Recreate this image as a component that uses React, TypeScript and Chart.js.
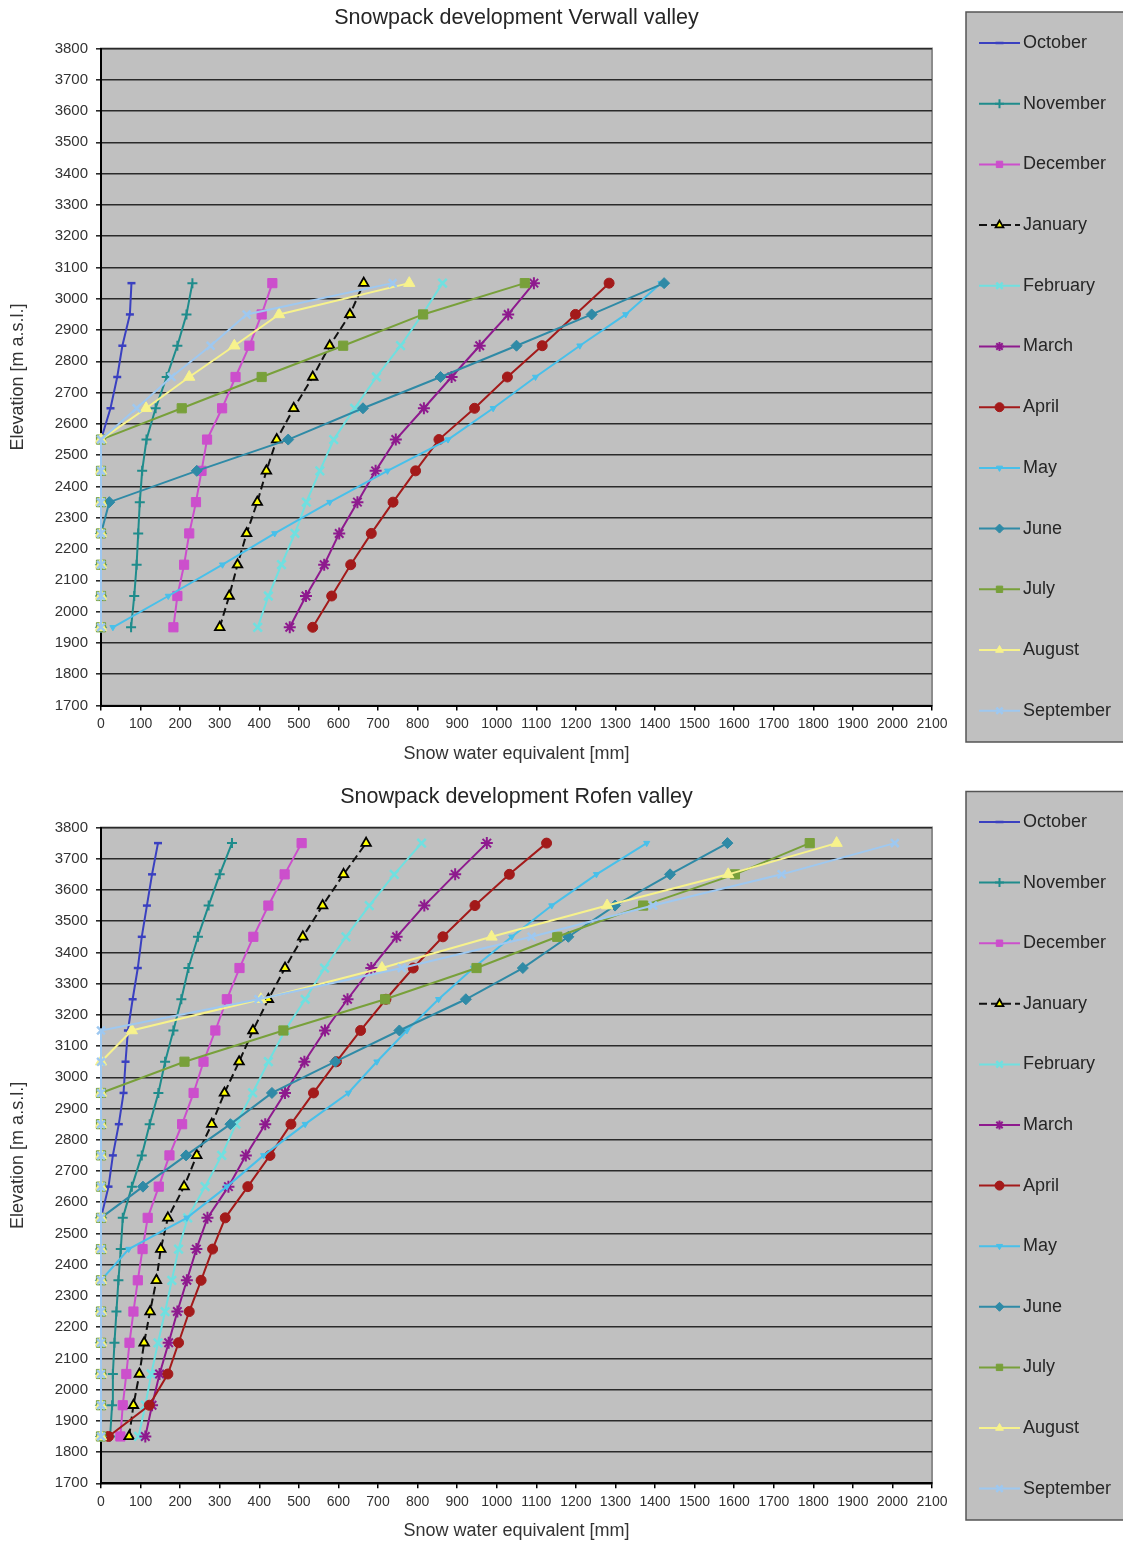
import React, { useEffect, useRef } from 'react';
import { Chart, registerables } from 'chart.js';
import { drawPoint } from 'chart.js/helpers';

Chart.register(...registerables);

const FONT = '"Liberation Sans", Arial, sans-serif';

const MONTHS = ['October', 'November', 'December', 'January', 'February', 'March', 'April', 'May', 'June', 'July', 'August', 'September'];

// ---------- Verwall valley (elevation bands 1950..3050 m) ----------
const VERWALL_ELEVATION = [1950, 2050, 2150, 2250, 2350, 2450, 2550, 2650, 2750, 2850, 2950, 3050];
const VERWALL_OCT = [0, 0, 0, 0, 0, 0, 0, 24, 41, 54, 73, 77];
const VERWALL_NOV = [76, 84, 90, 94, 98, 104, 115, 138, 166, 193, 216, 231];
const VERWALL_DEC = [183, 193, 210, 223, 240, 254, 268, 306, 340, 375, 406, 433];
const VERWALL_JAN = [300, 324, 345, 368, 395, 418, 444, 487, 535, 578, 629, 664];
const VERWALL_FEB = [396, 423, 456, 490, 519, 553, 588, 641, 696, 757, 812, 863];
const VERWALL_MAR = [477, 518, 564, 602, 648, 694, 745, 816, 886, 957, 1029, 1094];
const VERWALL_APR = [535, 583, 631, 683, 738, 795, 854, 944, 1027, 1115, 1199, 1284];
const VERWALL_MAY = [30, 170, 307, 439, 578, 724, 877, 991, 1098, 1210, 1326, 1415];
const VERWALL_JUN = [0, 0, 0, 0, 21, 242, 473, 662, 858, 1050, 1240, 1423];
const VERWALL_JUL = [0, 0, 0, 0, 0, 0, 0, 204, 406, 612, 814, 1071];
const VERWALL_AUG = [0, 0, 0, 0, 0, 0, 0, 114, 223, 337, 450, 779];
const VERWALL_SEP = [0, 0, 0, 0, 0, 0, 0, 90, 178, 277, 368, 737];

// ---------- Rofen valley (elevation bands 1850..3750 m) ----------
const ROFEN_ELEVATION = [1850, 1950, 2050, 2150, 2250, 2350, 2450, 2550, 2650, 2750, 2850, 2950, 3050, 3150, 3250, 3350, 3450, 3550, 3650, 3750];
const ROFEN_OCT = [0, 0, 0, 0, 0, 0, 0, 0, 19, 30, 45, 57, 62, 68, 80, 93, 103, 116, 129, 144];
const ROFEN_NOV = [23, 28, 30, 34, 39, 44, 50, 55, 78, 103, 123, 145, 162, 183, 203, 221, 245, 272, 300, 331];
const ROFEN_DEC = [49, 55, 64, 72, 82, 93, 105, 118, 146, 173, 205, 234, 259, 289, 318, 350, 385, 423, 464, 507];
const ROFEN_JAN = [71, 82, 97, 109, 124, 140, 151, 169, 210, 242, 280, 312, 349, 384, 423, 465, 510, 560, 613, 670];
const ROFEN_FEB = [95, 112, 127, 144, 162, 179, 196, 219, 263, 305, 341, 383, 423, 465, 516, 565, 619, 678, 741, 810];
const ROFEN_MAR = [112, 129, 148, 171, 193, 217, 241, 269, 322, 366, 415, 465, 514, 566, 623, 683, 747, 817, 895, 975];
const ROFEN_APR = [19, 122, 169, 196, 223, 253, 282, 314, 371, 427, 480, 537, 595, 656, 720, 789, 864, 945, 1032, 1126];
const ROFEN_MAY = [0, 0, 0, 0, 0, 0, 70, 217, 318, 411, 516, 625, 697, 773, 853, 941, 1038, 1139, 1252, 1379];
const ROFEN_JUN = [0, 0, 0, 0, 0, 0, 0, 0, 106, 215, 327, 432, 592, 754, 922, 1066, 1181, 1299, 1438, 1583];
const ROFEN_JUL = [0, 0, 0, 0, 0, 0, 0, 0, 0, 0, 0, 0, 211, 461, 718, 949, 1153, 1370, 1602, 1791];
const ROFEN_AUG = [0, 0, 0, 0, 0, 0, 0, 0, 0, 0, 0, 0, 0, 78, 404, 710, 987, 1279, 1585, 1859];
const ROFEN_SEP = [0, 0, 0, 0, 0, 0, 0, 0, 0, 0, 0, 0, 0, 0, 398, 760, 1088, 1395, 1720, 2006];

const VERWALL_SERIES = [VERWALL_OCT, VERWALL_NOV, VERWALL_DEC, VERWALL_JAN, VERWALL_FEB, VERWALL_MAR, VERWALL_APR, VERWALL_MAY, VERWALL_JUN, VERWALL_JUL, VERWALL_AUG, VERWALL_SEP];
const ROFEN_SERIES = [ROFEN_OCT, ROFEN_NOV, ROFEN_DEC, ROFEN_JAN, ROFEN_FEB, ROFEN_MAR, ROFEN_APR, ROFEN_MAY, ROFEN_JUN, ROFEN_JUL, ROFEN_AUG, ROFEN_SEP];

const X_MIN = 0;
const X_MAX = 2100;
const X_STEP = 100;
const Y_MIN = 1700;
const Y_MAX = 3800;
const Y_STEP = 100;

// ---------- styles (one per month) ----------
type Style = { color: string; fill: string; pointStyle: any; radius: number; pbw: number; dash?: number[]; rotation?: number; pointBorder?: string };
const STYLES: Style[] = [
  { color: '#3a40c0', fill: '#3a40c0', pointStyle: 'line', radius: 4, pbw: 2.5 },
  { color: '#1f8c8c', fill: '#1f8c8c', pointStyle: 'cross', radius: 5, pbw: 2 },
  { color: '#cc4fcc', fill: '#cc4fcc', pointStyle: 'rect', radius: 6.5, pbw: 1 },
  { color: '#111111', fill: '#ffff00', pointStyle: 'triangle', radius: 5.5, pbw: 1.8, dash: [8, 4], pointBorder: '#000000' },
  { color: '#6fe0e0', fill: '#6fe0e0', pointStyle: 'crossRot', radius: 6, pbw: 2.5 },
  { color: '#8e1a8e', fill: '#8e1a8e', pointStyle: 'star', radius: 6, pbw: 2 },
  { color: '#a31a1a', fill: '#a31a1a', pointStyle: 'circle', radius: 5, pbw: 1 },
  { color: '#48c0ea', fill: '#48c0ea', pointStyle: 'triangle', radius: 3.5, pbw: 1, rotation: 180 },
  { color: '#2f8aa6', fill: '#2f8aa6', pointStyle: 'rectRot', radius: 5.5, pbw: 1 },
  { color: '#78a03a', fill: '#78a03a', pointStyle: 'rect', radius: 6.5, pbw: 1 },
  { color: '#f7f28c', fill: '#f7f28c', pointStyle: 'triangle', radius: 6.5, pbw: 1 },
  { color: '#9ec8f0', fill: '#9ec8f0', pointStyle: 'crossRot', radius: 5.5, pbw: 2.5 },
];

const panelPlugin = {
  id: 'panel',
  beforeDraw(chart: any, _args: any, opts: any) {
    const { ctx, chartArea: a } = chart;
    ctx.save();
    ctx.fillStyle = '#c0c0c0';
    ctx.fillRect(a.left, a.top, a.right - a.left, a.bottom - a.top);
    ctx.strokeStyle = '#8c8c8c';
    ctx.lineWidth = 2;
    ctx.strokeRect(a.left, a.top, a.right - a.left, a.bottom - a.top);
    // title
    ctx.fillStyle = '#262626';
    ctx.font = `21.5px ${FONT}`;
    ctx.textAlign = 'center';
    ctx.textBaseline = 'middle';
    ctx.fillText(opts.title, (a.left + a.right) / 2, opts.titleY);
    // legend box
    ctx.fillStyle = '#c0c0c0';
    ctx.fillRect(opts.legendLeft, opts.legendTop, 200, opts.legendBottom - opts.legendTop);
    ctx.strokeStyle = '#555555';
    ctx.lineWidth = 1.5;
    ctx.strokeRect(opts.legendLeft, opts.legendTop, 200, opts.legendBottom - opts.legendTop);
    ctx.restore();
  },
  afterDraw(chart: any, _args: any, opts: any) {
    const { ctx } = chart;
    ctx.save();
    chart.data.datasets.forEach((ds: any, i: number) => {
      const y = opts.legendFirst + i * opts.legendStep;
      const x0 = opts.legendLeft + 13;
      const x1 = opts.legendLeft + 54;
      ctx.strokeStyle = ds.borderColor;
      ctx.lineWidth = 2;
      ctx.setLineDash(ds.borderDash || []);
      ctx.beginPath();
      ctx.moveTo(x0, y);
      ctx.lineTo(x1, y);
      ctx.stroke();
      ctx.setLineDash([]);
      ctx.fillStyle = ds.pointBackgroundColor;
      ctx.strokeStyle = ds.pointBorderColor;
      ctx.lineWidth = ds.pointBorderWidth;
      drawPoint(ctx, { pointStyle: ds.pointStyle, rotation: ds.pointRotation || 0, radius: Math.min(ds.pointRadius, 4.5), borderWidth: ds.pointBorderWidth }, (x0 + x1) / 2, y);
      ctx.fillStyle = '#262626';
      ctx.font = `18px ${FONT}`;
      ctx.textAlign = 'left';
      ctx.textBaseline = 'middle';
      ctx.fillText(ds.label, x1 + 3, y);
    });
    ctx.restore();
  },
};

type PanelProps = {
  top: number; height: number; plotTop: number; plotBottom: number; title: string; titleY: number; xTitleY: number;
  legendTop: number; legendBottom: number; legendFirst: number; legendStep: number;
  elevation: number[]; series: number[][];
};

const plain = (v: any) => String(v);

function Panel(p: PanelProps) {
  const ref = useRef<HTMLCanvasElement>(null);
  useEffect(() => {
    const datasets = MONTHS.map((m, i) => {
      const s = STYLES[i];
      return {
        label: m,
        data: p.series[i].map((v, j) => ({ x: v, y: p.elevation[j] })),
        showLine: true,
        borderColor: s.color,
        backgroundColor: s.fill,
        borderWidth: 2,
        borderDash: s.dash || [],
        pointStyle: s.pointStyle,
        pointRadius: s.radius,
        pointRotation: s.rotation || 0,
        pointBackgroundColor: s.fill,
        pointBorderColor: s.pointBorder || s.color,
        pointBorderWidth: s.pbw,
        tension: 0,
        clip: false as any,
        order: -i,
      };
    });
    const leftW = 101;
    const right = 932;
    const xTitleFont = 18;
    const chart = new Chart(ref.current as HTMLCanvasElement, {
      type: 'scatter',
      data: { datasets },
      plugins: [panelPlugin],
      options: {
        animation: false,
        responsive: false,
        events: [],
        layout: { padding: { top: p.plotTop, right: 1123 - right, left: 0, bottom: 0 } },
        plugins: {
          legend: { display: false },
          tooltip: { enabled: false },
          panel: {
            title: p.title, titleY: p.titleY,
            legendLeft: 966, legendTop: p.legendTop, legendBottom: p.legendBottom,
            legendFirst: p.legendFirst, legendStep: p.legendStep,
          },
        } as any,
        scales: {
          x: {
            type: 'linear', min: X_MIN, max: X_MAX,
            ticks: { stepSize: X_STEP, autoSkip: false, maxRotation: 0, color: '#333333', font: { family: FONT, size: 14 }, padding: 5, callback: plain },
            grid: { drawOnChartArea: false, drawTicks: true, tickLength: 5, color: '#000000', lineWidth: 1.5 },
            border: { display: true, color: '#000000', width: 2 },
            title: { display: true, text: 'Snow water equivalent [mm]', color: '#333333', font: { family: FONT, size: xTitleFont }, padding: { top: 0, bottom: p.height - p.xTitleY - xTitleFont * 0.6 } },
            afterFit: (sc: any) => { sc.height = p.height - p.plotBottom; },
          },
          y: {
            type: 'linear', min: Y_MIN, max: Y_MAX,
            ticks: { stepSize: Y_STEP, autoSkip: false, color: '#333333', font: { family: FONT, size: 15 }, padding: 8, callback: plain },
            grid: { drawOnChartArea: true, drawTicks: true, tickLength: 5, color: '#2a2a2a', lineWidth: 1.6 },
            border: { display: true, color: '#000000', width: 2 },
            title: { display: true, text: 'Elevation [m a.s.l.]', color: '#333333', font: { family: FONT, size: 18 }, padding: { top: 7, bottom: 0 } },
            afterFit: (sc: any) => { sc.width = leftW; },
          },
        },
      } as any,
    });
    return () => chart.destroy();
  }, []);
  return (
    <canvas
      ref={ref}
      width={1123}
      height={p.height}
      style={{ position: 'absolute', left: 0, top: p.top, width: 1123, height: p.height, display: 'block' }}
    />
  );
}

export default function App() {
  return (
    <div style={{ position: 'absolute', left: 0, top: 0, width: 1123, height: 1545, background: '#ffffff', overflow: 'hidden' }}>
      <Panel
        top={0} height={772} plotTop={48.5} plotBottom={705.5}
        title="Snowpack development Verwall valley" titleY={18} xTitleY={754}
        legendTop={12} legendBottom={742} legendFirst={43} legendStep={60.7}
        elevation={VERWALL_ELEVATION} series={VERWALL_SERIES}
      />
      <Panel
        top={772} height={773} plotTop={55.5} plotBottom={711.3}
        title="Snowpack development Rofen valley" titleY={25} xTitleY={759}
        legendTop={19.5} legendBottom={748} legendFirst={50} legendStep={60.6}
        elevation={ROFEN_ELEVATION} series={ROFEN_SERIES}
      />
    </div>
  );
}
